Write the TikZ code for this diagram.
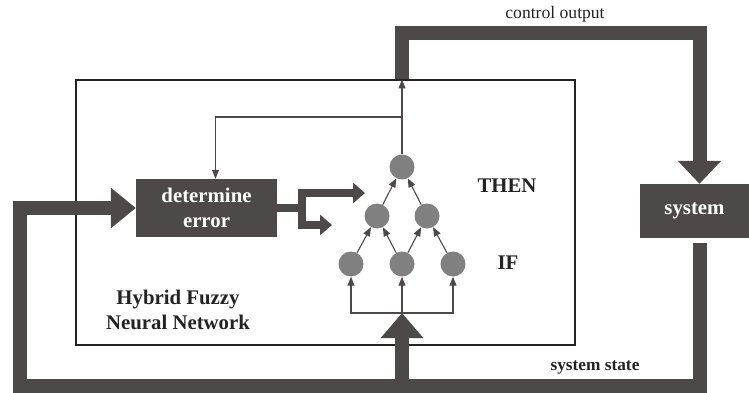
\documentclass[tikz,border=0pt]{standalone}
\usepackage{fontspec}
\setmainfont{Liberation Serif}
\usetikzlibrary{arrows.meta, positioning}
\definecolor{busgray}{RGB}{77,73,73}
\definecolor{neurongray}{RGB}{128,128,128}
\definecolor{ink}{RGB}{35,35,35}
\tikzset{neuron/.style={circle, fill=neurongray, minimum size=25pt, inner sep=0pt},
         block/.style={fill=busgray, text=white, font=\fontsize{20.8}{25}\selectfont\bfseries, align=center, inner sep=0pt},
         tag/.style={text=ink, font=\fontsize{20.8}{25}\selectfont\bfseries, align=center},
         bus/.style={draw=busgray, line width=14pt},
         midbus/.style={draw=busgray, line width=8pt},
         link/.style={draw=busgray, line width=1.1pt, -{Triangle[length=9pt,width=7pt]}},
        }

\begin{document}
\begin{tikzpicture}[x=1pt,y=-1pt]
        \useasboundingbox (0,0) rectangle (749,393);

        \node[draw=ink, line width=1.2pt, minimum width=499pt, minimum height=265pt, inner sep=0pt](hfnn)at(325.5,212.5){};
        \node[block, minimum width=141pt, minimum height=58pt](det)at(206.5,208){determine\\error};
        \node[block, minimum width=109pt, minimum height=54pt](sys)at(694.5,211){system};

        \node[neuron](a1)at(351,264){};
        \node[neuron](a2)at(402,264){};
        \node[neuron](a3)at(453,264){};
        \node[neuron](b1)at(377,216){};
        \node[neuron](b2)at(427,216){};
        \node[neuron](c)at(402,167){};

        \coordinate(fan)at(402,313);
        \coordinate(tap)at(402,117);
        \coordinate(corner)at(20,386);
        \coordinate(split)at(302,208);
        \coordinate(e1)at(365,193);
        \coordinate(e2)at(332,225);

        \node[tag](then)at(507,186){THEN};
        \node[tag](if)at(508,263){IF};
        \node[tag](name)at(178,310){Hybrid Fuzzy\\Neural Network};
        \node[tag, font=\fontsize{17.3}{20}\selectfont\bfseries](state)at(595,367){system state};
        \node[text=ink, font=\fontsize{17.6}{20}\selectfont](ctrl)at(555,14){control output};

        \draw[link](a1)--(b1);
        \draw[link](a2)--(b1);
        \draw[link](a2)--(b2);
        \draw[link](a3)--(b2);
        \draw[link](b1)--(c);
        \draw[link](b2)--(c);
        \draw[link](c)--(c |- hfnn.north);
        \draw[link](tap)-|([xshift=9pt]det.north);
        \draw[link](fan)--(a2);
        \draw[link](fan)-|(a1);
        \draw[link](fan)-|(a3);

        \draw[bus,-{Triangle[length=23pt,width=42pt]}](c |- hfnn.north)--++(0,-46)-|([xshift=5pt]sys.north);
        \draw[bus,-{Triangle[length=25pt,width=39pt]}]([xshift=5pt,yshift=-5pt]sys.south)|-(corner)|-(det.west);
        \draw[bus,-{Triangle[length=25pt,width=41pt]}](corner -| fan)--(fan);
        \draw[midbus](det.east)--(split);
        \draw[midbus,-{Triangle[length=12pt,width=20pt]}](split)|-(e1);
        \draw[midbus,-{Triangle[length=12pt,width=20pt]}](split)|-(e2);
    \end{tikzpicture}
\end{document}
